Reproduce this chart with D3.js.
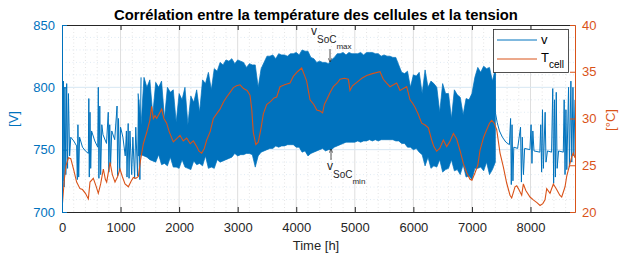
<!DOCTYPE html>
<html lang="fr">
  <head>
    <meta charset="utf-8">
    <title>Correlation temperature tension</title>
    <script src="https://d3js.org/d3.v7.min.js"></script>
    <style>
      body { margin: 0; background: #fff; }
      svg { font-family: "Liberation Sans", Arial, sans-serif; }
    </style>
  </head>
  <body>
    <script>
    // ---- data ----
    const xTicks = [0, 1000, 2000, 3000, 4000, 5000, 6000, 7000, 8000];
    const leftTicks = [700, 750, 800, 850];
    const rightTicks = [20, 25, 30, 35, 40];

    // cell temperature [°C]
    const tempTime = [0, 15, 40, 70, 110, 150, 200, 250, 307, 350, 400, 450, 478, 535, 580, 620, 660, 706, 740, 763,
      820, 860, 905, 950, 990, 1030, 1076, 1133, 1180, 1218, 1260, 1304, 1340, 1389, 1446, 1500, 1531, 1560, 1588, 1617,
      1660, 1702, 1740, 1787, 1830, 1901, 1950, 2015, 2070, 2129, 2190, 2243, 2300, 2340, 2385, 2430, 2471, 2530, 2584, 2640,
      2698, 2760, 2812, 2870, 2926, 2980, 3040, 3100, 3160, 3210, 3240, 3267, 3310, 3352, 3400, 3438, 3495, 3560, 3620, 3666,
      3723, 3800, 3893, 3950, 4020, 4093, 4130, 4178, 4235, 4300, 4350, 4406, 4450, 4480, 4520, 4580, 4633, 4700, 4747, 4820,
      4890, 4918, 4960, 5060, 5120, 5203, 5300, 5430, 5487, 5540, 5601, 5660, 5715, 5772, 5830, 5886, 5943, 5990, 6028, 6080,
      6142, 6200, 6256, 6313, 6350, 6398, 6450, 6512, 6569, 6620, 6683, 6740, 6800, 6853, 6910, 6967, 7000, 7053, 7100, 7138,
      7200, 7252, 7300, 7338, 7380, 7423, 7480, 7537, 7593, 7650, 7679, 7736, 7765, 7793, 7850, 7878, 7920, 7992, 8048, 8110,
      8163, 8210, 8248, 8277, 8333, 8390, 8447, 8500, 8533, 8590, 8618, 8675, 8704, 8730, 8760];
    const tempVal = [20.3, 21.5, 23.5, 25.0, 25.8, 25.7, 24.5, 23.2, 22.5, 22.4, 22.0, 21.4, 23.2, 23.6, 22.8, 22.0, 23.0, 24.6, 23.5, 23.2,
      25.3, 24.0, 23.2, 23.8, 24.6, 23.8, 23.0, 22.7, 23.3, 23.7, 23.6, 23.8, 25.5, 27.3, 28.5, 29.8, 31.3, 30.0, 30.3, 30.0,
      30.5, 31.0, 30.0, 29.5, 28.6, 27.5, 27.8, 28.2, 27.6, 27.9, 27.3, 27.6, 27.0, 26.5, 26.3, 26.8, 27.7, 28.6, 30.0, 30.5,
      31.0, 31.8, 32.3, 32.8, 33.3, 33.5, 33.6, 33.2, 33.0, 32.5, 31.0, 28.5, 27.2, 27.5, 29.0, 30.5, 31.5, 31.8, 32.2, 32.3,
      33.4, 33.6, 33.8, 34.5, 35.0, 35.4, 34.8, 34.0, 32.0, 31.5, 30.9, 30.8, 30.6, 31.5, 32.0, 32.8, 33.4, 33.8, 34.2, 34.3,
      34.2, 33.0, 33.5, 34.0, 34.3, 34.6, 34.8, 35.0, 34.2, 33.8, 33.4, 33.6, 33.8, 33.0, 33.2, 33.4, 32.0, 31.6, 31.2, 30.5,
      29.5, 29.3, 29.0, 27.7, 27.0, 26.5, 26.8, 27.7, 27.0, 27.5, 28.4, 27.8, 26.5, 25.2, 24.2, 23.5, 23.4, 24.2, 25.0, 26.6,
      28.0, 28.8, 29.5, 29.8, 29.5, 28.8, 26.3, 24.8, 23.1, 21.8, 21.5, 22.7, 22.8, 22.5, 21.8, 23.0, 22.3, 21.6, 21.3, 21.0,
      20.7, 20.9, 21.3, 22.5, 22.0, 23.0, 22.4, 21.8, 21.6, 22.7, 23.8, 25.2, 25.9, 26.3, 25.8];

    // voltage [V], dense cycling part: upper and lower envelope every 50 h
    const bandTime = d3.range(1300, 7401, 50);
    const bandHigh = [
      795, 770, 808, 800, 806, 778, 804, 800, 805, 775,
      800, 796, 798, 772, 795, 790, 800, 770, 793, 788,
      798, 780, 806, 803, 812, 798, 815, 813, 820, 818,
      822, 821, 823, 819, 822, 821, 820, 816, 819, 818,
      818, 800, 815, 820, 825, 825, 826, 823, 827, 826,
      826, 825, 827, 827, 828, 826, 830, 829, 829, 824,
      823, 820, 821, 820, 820, 819, 822, 824, 827, 827,
      828, 826, 828, 827, 827, 827, 828, 826, 828, 828,
      828, 827, 827, 825, 826, 825, 825, 824, 824, 818,
      812, 811, 813, 800, 810, 809, 812, 795, 814, 800,
      805, 803, 800, 780, 803, 795, 795, 775, 798, 794,
      792, 778, 791, 790, 795, 808, 816, 812, 817, 815,
      816, 805, 815];
    const bandLow = [
      745, 746, 745, 744, 742, 741, 740, 746, 738, 739,
      737, 744, 736, 736, 735, 742, 736, 735, 734, 741,
      738, 739, 737, 745, 735, 736, 735, 742, 740, 741,
      742, 743, 744, 747, 745, 746, 746, 747, 747, 746,
      736, 745, 748, 749, 750, 751, 751, 753, 752, 753,
      753, 754, 754, 754, 752, 752, 748, 749, 745, 747,
      748, 749, 750, 751, 749, 750, 750, 752, 753, 754,
      755, 756, 756, 756, 756, 757, 756, 757, 757, 758,
      757, 758, 757, 758, 758, 758, 758, 758, 757, 757,
      755, 755, 752, 752, 750, 751, 748, 746, 737, 744,
      735, 737, 736, 742, 732, 734, 735, 742, 733, 734,
      730, 738, 728, 729, 726, 735, 735, 736, 733, 740,
      730, 734, 740];

    // voltage [V], sparse parts at the start and the end of the year
    const startTime = [0, 5, 15, 25, 35, 50, 65, 80, 95, 110, 130, 150, 200, 250, 262, 272, 285, 300, 350, 400,
      450, 458, 466, 478, 490, 505, 560, 610, 620, 630, 645, 660, 680, 700, 760, 790, 800, 815, 830, 850,
      900, 940, 950, 965, 985, 1000, 1040, 1080, 1100, 1110, 1130, 1145, 1160, 1190, 1210, 1240, 1260, 1290, 1310, 1330, 1350];
    const startVolt = [700, 790, 725, 805, 720, 800, 730, 803, 735, 795, 745, 760, 757, 753, 726, 770, 728, 760, 752, 749,
      747, 791, 728, 780, 735, 765, 757, 752, 800, 727, 785, 730, 770, 762, 755, 780, 732, 770, 738, 765,
      758, 785, 729, 775, 733, 768, 760, 745, 765, 728, 771, 727, 765, 730, 760, 727, 768, 729, 790, 726, 808];
    const endTime = [7394, 7400, 7430, 7470, 7520, 7580, 7640, 7660, 7672, 7685, 7700, 7715, 7780, 7830, 7845, 7860, 7880, 7900, 7990, 8010,
      8025, 8040, 8060, 8160, 8175, 8190, 8205, 8220, 8250, 8265, 8290, 8360, 8380, 8395, 8410, 8425, 8440, 8455, 8480, 8560,
      8575, 8590, 8605, 8620, 8650, 8665, 8690, 8705, 8725, 8740, 8760];
    const endVolt = [816, 780, 772, 765, 760, 756, 754, 775, 722, 770, 725, 752, 751, 768, 724, 760, 730, 751, 750, 770,
      739, 765, 749, 748, 770, 732, 782, 735, 780, 740, 749, 748, 799, 723, 790, 728, 796, 735, 749, 748,
      790, 730, 782, 734, 800, 736, 805, 740, 800, 745, 790];

    // ---- layout ----
    const w = 634;
    const h = 257;
    const margin = {top: 25, right: 59, bottom: 45, left: 62};
    const innerWidth = w - margin.left - margin.right;
    const innerHeight = h - margin.top - margin.bottom;

    const blue = "#0072BD";
    const orange = "#D95319";
    const dark = "#262626";

    const xScale = d3.scaleLinear().domain([0, 8760]).range([0, innerWidth]);
    const yLeft = d3.scaleLinear().domain([700, 850]).range([innerHeight, 0]);
    const yRight = d3.scaleLinear().domain([20, 40]).range([innerHeight, 0]);

    const svg = d3.select("body")
                  .append("svg")
                  .attr("width", w)
                  .attr("height", h);

    svg.append("rect")
       .attr("width", w)
       .attr("height", h)
       .attr("fill", "white");

    const plot = svg.append("g")
                    .attr("transform", `translate(${margin.left}, ${margin.top})`);

    plot.append("clipPath")
        .attr("id", "clip")
        .append("rect")
        .attr("width", innerWidth)
        .attr("height", innerHeight);

    // grid: minor dotted, then major
    const grid = plot.append("g");
    grid.selectAll(".vminor")
        .data(d3.range(200, 8760, 200).filter(d => d % 1000 !== 0))
        .enter().append("line")
        .attr("x1", d => xScale(d)).attr("x2", d => xScale(d))
        .attr("y1", 0).attr("y2", innerHeight)
        .attr("stroke", "#d8d8d8")
        .attr("stroke-width", 0.7)
        .attr("stroke-dasharray", "1,2.5");
    grid.selectAll(".hminor")
        .data(d3.range(710, 850, 10).filter(d => d % 50 !== 0))
        .enter().append("line")
        .attr("x1", 0).attr("x2", innerWidth)
        .attr("y1", d => yLeft(d)).attr("y2", d => yLeft(d))
        .attr("stroke", "#d3e3ef")
        .attr("stroke-width", 0.7)
        .attr("stroke-dasharray", "1,2.5");
    grid.selectAll(".vmajor")
        .data(xTicks.slice(1))
        .enter().append("line")
        .attr("x1", d => xScale(d)).attr("x2", d => xScale(d))
        .attr("y1", 0).attr("y2", innerHeight)
        .attr("stroke", "#dedede")
        .attr("stroke-width", 1);
    grid.selectAll(".hmajor")
        .data(leftTicks.slice(1, -1))
        .enter().append("line")
        .attr("x1", 0).attr("x2", innerWidth)
        .attr("y1", d => yLeft(d)).attr("y2", d => yLeft(d))
        .attr("stroke", "#d6e7f3")
        .attr("stroke-width", 1);

    const marks = plot.append("g").attr("clip-path", "url(#clip)");

    // voltage
    const band = bandTime.map((t, i) => ({t: t, hi: bandHigh[i], lo: bandLow[i]}));
    marks.append("path")
         .datum(band)
         .attr("fill", blue)
         .attr("stroke", blue)
         .attr("stroke-width", 0.7)
         .attr("d", d3.area().x(d => xScale(d.t)).y0(d => yLeft(d.lo)).y1(d => yLeft(d.hi)));

    const vLine = d3.line().x(d => xScale(d[0])).y(d => yLeft(d[1]));
    marks.append("path")
         .datum(startTime.map((t, i) => [t, startVolt[i]]))
         .attr("fill", "none")
         .attr("stroke", blue)
         .attr("stroke-width", 1)
         .attr("d", vLine);
    marks.append("path")
         .datum(endTime.map((t, i) => [t, endVolt[i]]))
         .attr("fill", "none")
         .attr("stroke", blue)
         .attr("stroke-width", 1)
         .attr("d", vLine);

    // temperature
    marks.append("path")
         .datum(tempTime.map((t, i) => [t, tempVal[i]]))
         .attr("fill", "none")
         .attr("stroke", orange)
         .attr("stroke-width", 1.1)
         .attr("d", d3.line().x(d => xScale(d[0])).y(d => yRight(d[1])));

    // axes
    function styleAxis(g, color) {
      g.attr("font-family", null).attr("font-size", 13);
      g.select(".domain").attr("stroke", color);
      g.selectAll(".tick line").attr("stroke", color);
      g.selectAll(".tick text").attr("fill", color);
    }

    plot.append("g")
        .attr("transform", `translate(0, ${innerHeight})`)
        .call(d3.axisBottom(xScale).tickValues(xTicks).tickFormat(d3.format("d"))
                .tickSizeInner(-5).tickSizeOuter(0).tickPadding(11))
        .call(g => styleAxis(g, dark));
    plot.append("g")
        .call(d3.axisTop(xScale).tickValues(xTicks).tickSizeInner(-5).tickSizeOuter(0))
        .call(g => styleAxis(g, dark))
        .call(g => g.selectAll(".tick text").remove());
    plot.append("g")
        .call(d3.axisLeft(yLeft).tickValues(leftTicks).tickSizeInner(-5).tickSizeOuter(0).tickPadding(7))
        .call(g => styleAxis(g, blue));
    plot.append("g")
        .attr("transform", `translate(${innerWidth}, 0)`)
        .call(d3.axisRight(yRight).tickValues(rightTicks).tickSizeInner(-5).tickSizeOuter(0).tickPadding(7))
        .call(g => styleAxis(g, orange));

    // labels
    svg.append("text")
       .attr("x", 316).attr("y", 20)
       .attr("text-anchor", "middle")
       .attr("font-size", 14.8).attr("font-weight", "bold")
       .attr("fill", "#000")
       .text("Corrélation entre la température des cellules et la tension");

    svg.append("text")
       .attr("x", 316).attr("y", 250)
       .attr("text-anchor", "middle")
       .attr("font-size", 13).attr("fill", dark)
       .text("Time [h]");

    svg.append("text")
       .attr("transform", "translate(18, 119) rotate(-90)")
       .attr("text-anchor", "middle")
       .attr("font-size", 13).attr("fill", blue)
       .text("[V]");

    svg.append("text")
       .attr("transform", "translate(615, 120) rotate(-90)")
       .attr("text-anchor", "middle")
       .attr("font-size", 13).attr("fill", orange)
       .text("[°C]");

    // legend
    const legend = svg.append("g");
    legend.append("rect")
          .attr("x", 493.5).attr("y", 29.5)
          .attr("width", 75).attr("height", 43)
          .attr("fill", "white")
          .attr("stroke", dark)
          .attr("stroke-width", 0.8);
    legend.append("line")
          .attr("x1", 497).attr("x2", 537).attr("y1", 40).attr("y2", 40)
          .attr("stroke", blue).attr("stroke-width", 1);
    legend.append("text")
          .attr("x", 541).attr("y", 44)
          .attr("font-size", 13).attr("fill", "#000")
          .text("v");
    legend.append("line")
          .attr("x1", 497).attr("x2", 537).attr("y1", 59).attr("y2", 59)
          .attr("stroke", orange).attr("stroke-width", 1);
    const tcell = legend.append("text")
          .attr("x", 541).attr("y", 62)
          .attr("font-size", 13).attr("fill", "#000");
    tcell.append("tspan").text("T");
    tcell.append("tspan").attr("font-size", 10).attr("dy", 6).text("cell");

    // SoC annotations
    svg.append("defs").append("marker")
       .attr("id", "head")
       .attr("viewBox", "0 0 10 10")
       .attr("refX", 10).attr("refY", 5)
       .attr("markerWidth", 5).attr("markerHeight", 5)
       .attr("orient", "auto")
       .append("path")
       .attr("d", "M0,0 L10,5 L0,10")
       .attr("fill", "none")
       .attr("stroke", dark)
       .attr("stroke-width", 1.5);

    function socLabel(x, y, sub) {
      const t = svg.append("text").attr("x", x).attr("y", y).attr("fill", dark).attr("font-size", 12);
      t.append("tspan").text("v");
      t.append("tspan").attr("font-size", 10).attr("dy", 8).text("SoC");
      t.append("tspan").attr("font-size", 8).attr("dy", 6).text(sub);
    }
    socLabel(311, 35, "max");
    socLabel(327, 170, "min");

    svg.append("line")
       .attr("x1", 330).attr("x2", 330).attr("y1", 49).attr("y2", 62)
       .attr("stroke", dark).attr("stroke-width", 0.8)
       .attr("marker-end", "url(#head)");
    svg.append("line")
       .attr("x1", 331).attr("x2", 331).attr("y1", 160).attr("y2", 149)
       .attr("stroke", dark).attr("stroke-width", 0.8)
       .attr("marker-end", "url(#head)");
    </script>
  </body>
</html>
